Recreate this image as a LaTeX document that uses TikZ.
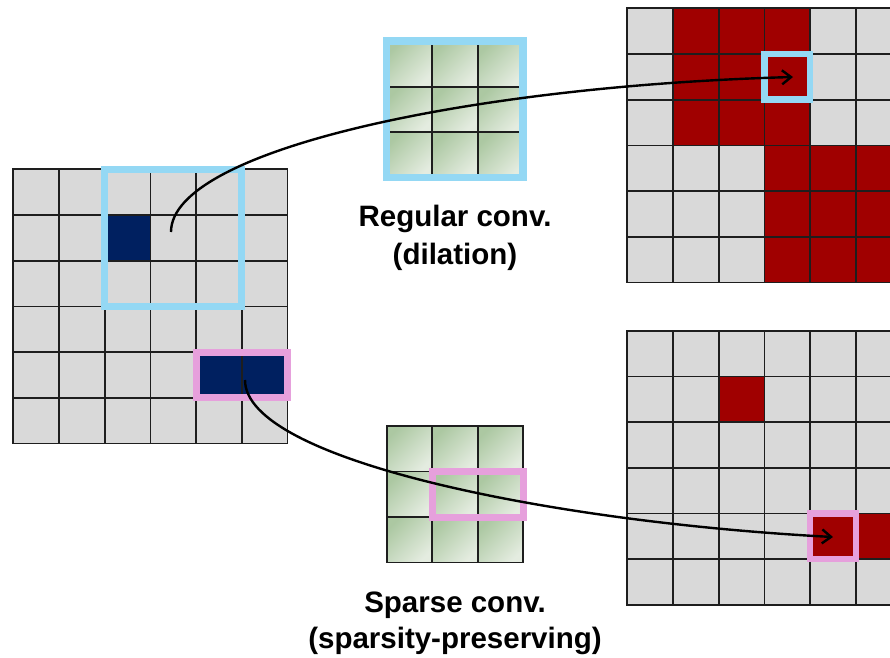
\documentclass[tikz,border=0pt]{standalone}
\usepackage{fontspec}
\setmainfont{Liberation Sans}
\usetikzlibrary{arrows.meta}

\definecolor{cellgray}{RGB}{217,217,217}
\definecolor{navyfill}{RGB}{0,32,96}
\definecolor{redfill}{RGB}{160,0,0}
\definecolor{hlblue}{RGB}{148,216,244}
\definecolor{hlpink}{RGB}{230,160,220}
\definecolor{gridink}{RGB}{30,30,30}
\definecolor{kdark}{RGB}{172,200,162}
\definecolor{klight}{RGB}{228,236,224}

\tikzset{
  gridline/.style={draw=gridink, line width=1.8pt, line cap=rect},
  bluebox/.style={draw=hlblue, line width=7pt},
  pinkbox/.style={draw=hlpink, line width=7pt},
  flow/.style={draw=black, line width=2.4pt, -{Straight Barb[length=9pt,width=14pt]}},
  lab/.style={font=\bfseries\fontsize{29.5}{34}\selectfont, inner sep=0pt},
}

% cell size of the feature maps and of the kernels
\def\cs{45.7}
\def\ks{45.5}

% fill one cell (col, row) of a grid whose top-left corner is (#1,#2)
\newcommand\paintcell[5]{%
  \fill[#5] ({#1+#3*\cs},{#2+#4*\cs}) rectangle ({#1+(#3+1)*\cs},{#2+(#4+1)*\cs});}
% the lines of a 6x6 feature map
\newcommand\maplines[2]{%
  \foreach \i in {0,...,6}{
    \draw[gridline] ({#1+\i*\cs},#2) -- ({#1+\i*\cs},{#2+6*\cs});
    \draw[gridline] (#1,{#2+\i*\cs}) -- ({#1+6*\cs},{#2+\i*\cs});
  }}
% a 3x3 kernel with shaded cells (darker towards the upper left)
\newcommand\kernelat[2]{%
  \foreach \c in {0,1,2}{
    \foreach \r in {0,1,2}{
      \shade[top color=kdark, bottom color=klight, shading angle=45]
        ({#1+\c*\ks},{#2+\r*\ks}) rectangle ({#1+(\c+1)*\ks},{#2+(\r+1)*\ks});
    }}
  \foreach \i in {0,...,3}{
    \draw[gridline] ({#1+\i*\ks},#2) -- ({#1+\i*\ks},{#2+3*\ks});
    \draw[gridline] (#1,{#2+\i*\ks}) -- ({#1+3*\ks},{#2+\i*\ks});
  }}

\begin{document}
\begin{tikzpicture}[x=1pt, y=-1pt]
\useasboundingbox (0,0) rectangle (890,657);
\clip (0,0) rectangle (890,657);

% ---------- input feature map ----------
\def\lx{13.3}\def\ly{169.3}
\fill[cellgray] (\lx,\ly) rectangle ({\lx+6*\cs},{\ly+6*\cs});
\paintcell{\lx}{\ly}{2}{1}{navyfill}
\paintcell{\lx}{\ly}{4}{4}{navyfill}
\paintcell{\lx}{\ly}{5}{4}{navyfill}
\maplines{\lx}{\ly}
\node[bluebox, minimum width=3*\cs, minimum height=3*\cs, inner sep=0pt]
  (inwin) at ({\lx+3.5*\cs},{\ly+1.5*\cs}) {};
\node[pinkbox, minimum width=2*\cs, minimum height=\cs, inner sep=0pt]
  (inpair) at ({\lx+5*\cs},{\ly+4.5*\cs}) {};

% ---------- kernels ----------
\kernelat{386.7}{41.2}
\node[bluebox, line width=7.5pt, minimum width=3*\ks, minimum height=3*\ks, inner sep=0pt]
  (kreg) at ({386.7+1.5*\ks},{41.2+1.5*\ks}) {};
\kernelat{386.7}{426}
\node[pinkbox, minimum width=2*\ks, minimum height=\ks, inner sep=0pt]
  (kspa) at ({386.7+2*\ks},{426+1.5*\ks}) {};

% ---------- output of the regular convolution ----------
\def\tx{627.3}\def\ty{8.3}
\fill[cellgray] (\tx,\ty) rectangle ({\tx+6*\cs},{\ty+6*\cs});
\foreach \c/\r in {1/0,2/0,3/0,1/1,2/1,3/1,1/2,2/2,3/2,
                   3/3,4/3,5/3,3/4,4/4,5/4,3/5,4/5,5/5}{
  \paintcell{\tx}{\ty}{\c}{\r}{redfill}}
\maplines{\tx}{\ty}
\node[bluebox, line width=6.5pt, minimum width=\cs, minimum height=\cs, inner sep=0pt]
  (outreg) at ({\tx+3.5*\cs},{\ty+1.5*\cs}) {};

% ---------- output of the sparse convolution ----------
\def\bx{627.3}\def\by{330.7}
\fill[cellgray] (\bx,\by) rectangle ({\bx+6*\cs},{\by+6*\cs});
\paintcell{\bx}{\by}{2}{1}{redfill}
\paintcell{\bx}{\by}{4}{4}{redfill}
\paintcell{\bx}{\by}{5}{4}{redfill}
\maplines{\bx}{\by}
\node[pinkbox, line width=6.5pt, minimum width=\cs, minimum height=\cs, inner sep=0pt]
  (outspa) at ({\bx+4.5*\cs},{\by+4.5*\cs}) {};

% ---------- labels ----------
\node[lab, anchor=base] (reg1) at (455,226) {Regular conv.};
\node[lab, anchor=base] (reg2) at (455,264) {(dilation)};
\node[lab, anchor=base] (spa1) at (455,612) {Sparse conv.};
\node[lab, anchor=base] (spa2) at (455,648) {(sparsity-preserving)};

% ---------- connectors ----------
\coordinate (srcA) at (171,232);
\coordinate (dstA) at (793,77);
\coordinate (srcB) at (245,380);
\coordinate (dstB) at (833,537);
\draw[flow] (srcA) .. controls (171,150) and (470,86) .. (dstA);
\draw[flow] (srcB) .. controls (245,460) and (550,522) .. (dstB);
\end{tikzpicture}
\end{document}
